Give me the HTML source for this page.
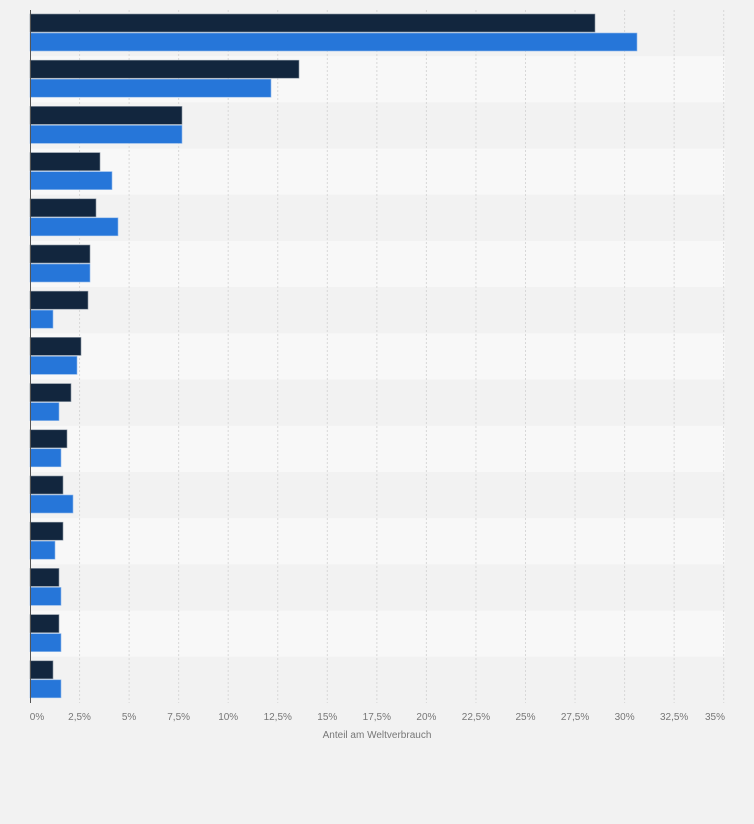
<!DOCTYPE html>
<html><head><meta charset="utf-8"><style>
body{margin:0;background:#f2f2f2;width:754px;height:819px;overflow:hidden;font-family:"Liberation Sans",sans-serif}
</style></head><body>
<svg width="754" height="819" xmlns="http://www.w3.org/2000/svg">
<rect width="754" height="819" fill="#f2f2f2"/>
<g id="rows"></g>
<g id="grid"></g>
<g id="bars"></g>
<line x1="30.5" y1="10" x2="30.5" y2="703" stroke="#555" stroke-width="1"/>
<g font-size="10" fill="#777" text-anchor="middle" id="ticks"></g>
<text x="377" y="738" font-size="10" fill="#777" text-anchor="middle">Anteil am Weltverbrauch</text>
</svg>
<script>
(function(){
var ns="http://www.w3.org/2000/svg";
function el(p,t,a){var e=document.createElementNS(ns,t);for(var k in a)e.setAttribute(k,a[k]);document.getElementById(p).appendChild(e);return e;}
var rh=46.2,T0=10;
for(var i=0;i<15;i++)el("rows","rect",{x:30,y:T0+i*rh,width:695,height:rh,fill:i%2?"#f8f8f8":"#f2f2f2"});
var labels=["0%","2,5%","5%","7,5%","10%","12,5%","15%","17,5%","20%","22,5%","25%","27,5%","30%","32,5%","35%"];
for(var j=0;j<15;j++){var x=30+j*49.55;
 if(j>0)el("grid","line",{x1:x,y1:10,x2:x,y2:703,stroke:"#d8d8d8","stroke-dasharray":"2,2"});
 var t=el("ticks","text",{x:j==0?37:(j==14?715:x),y:720});t.textContent=labels[j];}
var d=[[595,637],[299,271],[182,182],[100,112],[96,118],[90,90],[88,53],[81,77],[71,59],[67,61],[63,73],[63,55],[59,61],[59,61],[53,61]];
d.forEach(function(v,i){var y=T0+i*rh;
 el("bars","rect",{x:30,y:y+4,width:v[0]-30,height:18,fill:"#12263e",stroke:"#8a96a3","stroke-width":0.6});
 el("bars","rect",{x:30,y:y+23,width:v[1]-30,height:18,fill:"#2676d9",stroke:"#8fb8ea","stroke-width":0.6});});
})();
</script>
</body></html>
